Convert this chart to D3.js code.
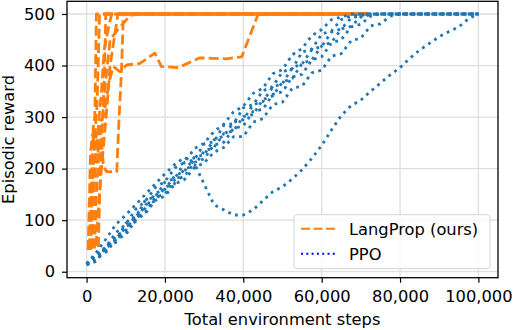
<!DOCTYPE html>
<html>
<head>
<meta charset="utf-8">
<script src="https://cdn.jsdelivr.net/npm/d3@7"></script>
<style>
    body { margin: 0; background: #fff; }
    svg { width: 514px; height: 330px; display: block; }
    text { font-family: "DejaVu Sans", sans-serif; font-size: 16.3px; fill: #000; }
</style>
</head>
<body>
<svg></svg>
<script>
// Данные: прогоны LangProp (шаги, награда)
const langprop1 = [[700, 45], [1200, 160], [1700, 280], [2100, 300], [2500, 500], [72000, 500]];
const langprop2 = [[400, 42], [1000, 230], [1500, 265], [2000, 250], [2700, 330], [3300, 500], [72000, 500]];
const langprop3 = [[3000, 48], [3300, 140], [3700, 240], [4100, 290], [4500, 370], [4900, 500], [72000, 500]];
const langprop4 = [[1500, 45], [2000, 180], [2600, 240], [3200, 300], [3800, 350], [4500, 430], [5500, 470], [6400, 500], [72000, 500]];
const langprop5 = [[1000, 42], [1600, 200], [2300, 270], [3000, 230], [3700, 260], [4300, 205], [5100, 194], [7700, 194], [8300, 300], [8900, 388], [9400, 500], [72000, 500]];
const langprop6 = [[1200, 45], [1800, 210], [2600, 250], [3400, 290], [4200, 300], [5000, 330], [5800, 370], [6800, 398],
    [8500, 388], [10200, 401], [13600, 404], [17400, 424], [19100, 398], [23400, 396], [28900, 415], [31900, 414],
    [35700, 413], [39600, 417], [43800, 500], [72000, 500]];
const langprop7 = [[2000, 45], [2600, 170], [3400, 260], [4200, 310], [5000, 380], [6000, 450], [8000, 470], [11100, 497], [13600, 500], [72000, 500]];
const langprop8 = [[2400, 50], [3000, 120], [3800, 200], [4500, 260], [5200, 320], [6000, 400], [6600, 430], [7200, 460], [8000, 500], [72000, 500]];

// Данные: прогоны PPO, значения через каждые 2500 шагов
const ppoSteps = [0, 2500, 5000, 7500, 10000, 12500, 15000, 17500, 20000, 22500, 25000, 27500, 30000, 32500, 35000, 37500,
    40000, 42500, 45000, 47500, 50000, 52500, 55000, 57500, 60000, 62500, 65000, 67500, 70000, 72500, 75000,
    77500, 80000, 82500, 85000, 87500, 90000, 92500, 95000, 97500, 100000];
const ppo1 = [15, 33, 49, 76, 92, 121, 137, 163, 175, 201, 212, 239, 249, 272, 286, 310, 321, 346, 356, 384, 392, 421, 433, 458,
    470, 489, 494, 500, 500, 500, 500, 500, 500, 500, 500, 500, 500, 500, 500, 500, 500];
const ppo2 = [14, 22, 50, 61, 94, 104, 139, 145, 174, 181, 212, 217, 248, 252, 284, 287, 318, 324, 351, 359, 388, 394, 426, 432,
    461, 467, 489, 496, 500, 500, 500, 500, 500, 500, 500, 500, 500, 500, 500, 500, 500];
const ppo3 = [16, 32, 44, 70, 80, 112, 123, 152, 160, 186, 195, 222, 227, 256, 263, 290, 295, 324, 330, 358, 365, 396, 403, 431,
    437, 465, 471, 492, 497, 500, 500, 500, 500, 500, 500, 500, 500, 500, 500, 500, 500];
const ppo4 = [13, 20, 47, 57, 88, 97, 130, 137, 164, 171, 200, 205, 234, 241, 268, 273, 301, 305, 334, 341, 368, 375, 404, 411,
    438, 445, 471, 476, 494, 499, 500, 500, 500, 500, 500, 500, 500, 500, 500, 500, 500];
const ppo5 = [15, 31, 40, 66, 75, 106, 115, 144, 151, 178, 185, 212, 219, 246, 251, 278, 283, 311, 315, 344, 349, 378, 383, 411,
    417, 444, 450, 475, 480, 496, 500, 500, 500, 500, 500, 500, 500, 500, 500, 500, 500];
const ppo6 = [14, 27, 38, 62, 72, 100, 113, 138, 147, 170, 179, 202, 211, 232, 241, 262, 262, 290, 297, 324, 329, 356, 360, 386,
    391, 418, 423, 448, 453, 477, 481, 496, 500, 500, 500, 500, 500, 500, 500, 500, 500];
const ppo7 = [15, 38, 64, 92, 110, 130, 150, 170, 190, 208, 222, 210, 170, 130, 120, 110, 110, 120, 138, 155, 165, 180, 198, 220,
    245, 275, 303, 322, 333, 350, 366, 382, 396, 414, 430, 443, 456, 466, 475, 491, 500];

// Подписи делений и легенды
const xTicks = [0, 20000, 40000, 60000, 80000, 100000];
const yTicks = [0, 100, 200, 300, 400, 500];
const legendLabels = ["LangProp (ours)", "PPO"];
const axisLabels = ["Total environment steps", "Episodic reward"];

// Основная функция отрисовки
function drawGraph() {
    let svg = d3.select("svg");
    svg.selectAll("*").remove();

    attr_area = {
        left: 67,
        right: 498,
        top: 1.3,
        bottom: 277.7
    };

    let scX = d3.scaleLinear().domain([-5000, 105000]).range([attr_area.left, attr_area.right]);
    let scY = d3.scaleLinear().domain([-11.6, 524.6]).range([attr_area.bottom, attr_area.top]);

    createGrid(svg, scX, scY, attr_area);

    const lpRuns = [langprop1, langprop2, langprop3, langprop4, langprop5, langprop6, langprop7, langprop8];
    lpRuns.forEach(run => createLine(svg, run, scX, scY, "#ff7f0e", "10,4.2"));

    const ppoRuns = [ppo1, ppo2, ppo3, ppo4, ppo5, ppo6, ppo7];
    ppoRuns.forEach(vals => {
        let run = ppoSteps.map((s, i) => [s, vals[i]]);
        createLine(svg, run, scX, scY, "#1f77b4", "2.8,4.5");
    });

    createAxis(svg, scX, scY, attr_area);
    createLegend(svg, attr_area);
}

// Сетка
function createGrid(svg, scX, scY, attr_area) {
    svg.append("g").selectAll("line")
        .data(xTicks)
        .enter()
        .append("line")
        .attr("x1", d => scX(d)).attr("x2", d => scX(d))
        .attr("y1", attr_area.top).attr("y2", attr_area.bottom)
        .attr("stroke", "#dedede").attr("stroke-width", 1.3);

    svg.append("g").selectAll("line")
        .data(yTicks)
        .enter()
        .append("line")
        .attr("x1", attr_area.left).attr("x2", attr_area.right)
        .attr("y1", d => scY(d)).attr("y2", d => scY(d))
        .attr("stroke", "#dedede").attr("stroke-width", 1.3);
}

// Линия одного прогона
function createLine(svg, data, scX, scY, color, dash) {
    const lineGenerator = d3.line()
        .x(d => scX(d[0]))
        .y(d => scY(d[1]));

    svg.append("path")
        .datum(data)
        .attr("fill", "none")
        .attr("stroke", color)
        .attr("stroke-width", 2.8)
        .attr("stroke-dasharray", dash)
        .attr("stroke-linejoin", "round")
        .attr("d", lineGenerator);
}

// Оси, рамка и подписи
function createAxis(svg, scX, scY, attr_area) {
    let axisX = d3.axisBottom(scX).tickValues(xTicks).tickFormat(d3.format(","))
        .tickSize(5).tickSizeOuter(0).tickPadding(7.5);
    let axisY = d3.axisLeft(scY).tickValues(yTicks).tickFormat(d3.format("d"))
        .tickSize(5).tickSizeOuter(0).tickPadding(7);

    let gx = svg.append("g")
        .attr("transform", `translate(0, ${attr_area.bottom})`)
        .call(axisX);
    let gy = svg.append("g")
        .attr("transform", `translate(${attr_area.left}, 0)`)
        .call(axisY);

    [gx, gy].forEach(g => {
        g.select(".domain").remove();
        g.selectAll("line").attr("stroke", "#000").attr("stroke-width", 1.2);
        g.selectAll("text")
            .attr("fill", "#000")
            .style("font-family", "DejaVu Sans")
            .style("font-size", "16.3px");
    });

    svg.append("rect")
        .attr("x", attr_area.left).attr("y", attr_area.top)
        .attr("width", attr_area.right - attr_area.left)
        .attr("height", attr_area.bottom - attr_area.top)
        .attr("fill", "none").attr("stroke", "#000").attr("stroke-width", 1.3);

    svg.append("text")
        .attr("x", (attr_area.left + attr_area.right) / 2)
        .attr("y", 325)
        .attr("text-anchor", "middle")
        .text(axisLabels[0]);

    svg.append("text")
        .attr("transform", `translate(13.5, ${(attr_area.top + attr_area.bottom) / 2}) rotate(-90)`)
        .attr("text-anchor", "middle")
        .text(axisLabels[1]);
}

// Легенда
function createLegend(svg, attr_area) {
    let g = svg.append("g").attr("transform", `translate(${attr_area.right - 204}, ${attr_area.bottom - 63})`);

    g.append("rect")
        .attr("x", 0).attr("y", 0)
        .attr("width", 196).attr("height", 54)
        .attr("rx", 3)
        .attr("fill", "#fff").attr("fill-opacity", 0.8)
        .attr("stroke", "#d4d4d4").attr("stroke-width", 1);

    const colors = ["#ff7f0e", "blue"];
    const dashes = ["9,3.5", "2,3.3"];
    legendLabels.forEach((label, i) => {
        let y = 14 + i * 25;
        g.append("line")
            .attr("x1", 7).attr("x2", 41)
            .attr("y1", y).attr("y2", y)
            .attr("stroke", colors[i])
            .attr("stroke-width", 2)
            .attr("stroke-dasharray", dashes[i]);
        g.append("text")
            .attr("x", 55).attr("y", y + 6.5)
            .text(label);
    });
}

drawGraph();
</script>
</body>
</html>
